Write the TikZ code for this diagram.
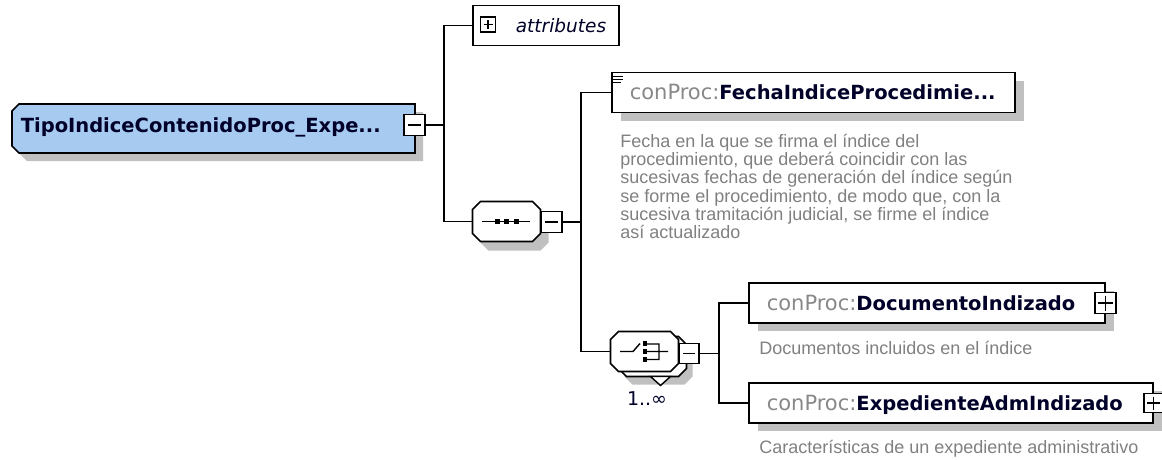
\documentclass[tikz,border=0pt]{standalone}
\usepackage{fontspec}
\setmainfont{Liberation Sans}
\newfontfamily\namefont{DejaVu Sans}
\usetikzlibrary{shadows,positioning}

\definecolor{typeblue}{RGB}{166,202,240}
\definecolor{prefixgray}{RGB}{136,136,136}
\definecolor{docgray}{RGB}{128,128,128}
\definecolor{namecol}{RGB}{0,0,40}
\definecolor{shadowgray}{RGB}{192,192,192}

% qualified element name: grey prefix, bold local name
\newcommand{\qname}[1]{\mbox{{\namefont\fontsize{21}{24}\selectfont\color{prefixgray}conProc:}{\namefont\bfseries\fontsize{19.5}{24}\selectfont\color{namecol}#1}}}
% octagon: centre x, centre y, half width, half height, cut, options
\newcommand{\octagon}[6]{\path[#6] (#1-#3+#5,#2-#4) -- (#1+#3-#5,#2-#4) -- (#1+#3,#2-#4+#5) -- (#1+#3,#2+#4-#5)
  -- (#1+#3-#5,#2+#4) -- (#1-#3+#5,#2+#4) -- (#1-#3,#2+#4-#5) -- (#1-#3,#2-#4+#5) -- cycle;}

\begin{document}
\begin{tikzpicture}[x=1pt,y=-1pt,line width=1.6pt,
    type node/.style={rectangle,inner xsep=8pt,inner ysep=0pt,minimum height=49pt,
      text width=387pt,align=left,text height=15pt,text depth=8pt,text=namecol,
      font=\namefont\bfseries\fontsize{19.5}{24}\selectfont},
    compositor/.style={rectangle,inner sep=0pt,minimum width=68pt,minimum height=40pt},
    element box/.style={rectangle,draw,fill=white,inner xsep=18pt,inner ysep=0pt,
      minimum height=40pt,align=left,text height=14pt,text depth=0pt,
      drop shadow={shadow xshift=9pt,shadow yshift=-8pt,fill=shadowgray,opacity=1}},
    doc text/.style={inner sep=0pt,align=left,text=docgray,font=\fontsize{18}{18.3}\selectfont},
    toggle/.style={rectangle,draw,fill=white,minimum size=20pt,inner sep=0pt,line width=1.5pt},
    minus toggle/.style={toggle,path picture={
      \draw[line width=1.4pt] ([xshift=4pt]path picture bounding box.west) -- ([xshift=-4pt]path picture bounding box.east);}},
    plus toggle/.style={toggle,path picture={
      \draw[line width=1.4pt] ([xshift=3pt]path picture bounding box.west) -- ([xshift=-3pt]path picture bounding box.east)
        ([yshift=-3pt]path picture bounding box.north) -- ([yshift=3pt]path picture bounding box.south);}}]

\useasboundingbox (0,0) rectangle (1162,459);

% complex type and its toggle
\fill[shadowgray] (27,112) -- (423,112) -- (423,161) -- (27,161) -- (20,154) -- (20,119) -- cycle;
\draw[fill=typeblue] (19,104) -- (415,104) -- (415,153) -- (19,153) -- (12,146) -- (12,111) -- cycle;
\node[type node,anchor=west] (type) at (12,128.5) {TipoIndiceContenidoProc\_Expe...};
\node[minus toggle,minimum size=21pt] (typeT) at (414.5,125) {};

% attributes
\node[rectangle,draw,fill=white,anchor=west,minimum height=40pt,inner xsep=1pt,text width=144pt,align=left,
  font=\namefont\itshape\fontsize{18.5}{22}\selectfont,text=namecol] (attr) at (472,25.5) {\hspace*{42pt}attributes};
\node[plus toggle,minimum size=15pt,line width=1.3pt] (attrT) at (488,24.5) {};

% sequence
\octagon{514.5}{230.5}{34}{20}{8}{fill=shadowgray}
\octagon{506.5}{221.5}{34}{20}{8}{draw,fill=white}
\node[compositor] (seq) at (506.5,221.5) {};
\draw[line width=1.4pt] (482,221.5) -- (530,221.5);
\foreach \dx in {497.5,506.5,516.5}
  \fill (\dx-2.5,219) rectangle (\dx+2.5,224);
\node[minus toggle,minimum size=21pt] (seqT) at (551.5,222) {};

% first element with its documentation
\node[element box,anchor=west,text width=367pt] (fecha) at (611,92.5) {\qname{FechaIndiceProcedimie...}};
\draw[line width=1pt] (613,76) -- (623,76) (613,79) -- (623,79) (613,82) -- (621,82);
\node[doc text,below right=20pt and 8.5pt of fecha.south west] (fechaDoc) {Fecha en la que se firma el índice del\\
  procedimiento, que deberá coincidir con las\\
  sucesivas fechas de generación del índice según\\
  se forme el procedimiento, de modo que, con la\\
  sucesiva tramitación judicial, se firme el índice\\
  así actualizado};

% choice, unbounded
\octagon{658.5}{364.5}{34}{20}{8}{fill=shadowgray}
\octagon{652.5}{356.5}{34}{20}{8}{draw,fill=white}
\octagon{644.5}{351.5}{34}{20}{8}{draw,fill=white}
\node[compositor] (choice) at (644.5,351.5) {};
\draw[line width=1.4pt,fill=white] (650.5,376.5) -- (670.5,376.5) -- (660.5,385.5) -- cycle;
\draw[line width=1.4pt] (620,351.5) -- (633,351.5) -- (640,343.5)
  (645,344) -- (659,344) -- (659,359.5) -- (645,359.5) (645,351.5) -- (668,351.5);
\foreach \dy in {343.5,351.5,359.5}
  \fill (642.5,\dy-2.5) rectangle (647,\dy+2.5);
\node[minus toggle] (choiceT) at (689,353.5) {};
\node[font=\namefont\fontsize{19}{22}\selectfont,text=namecol,inner sep=0pt] (occurs) at (647,399) {1..∞};

% choice members
\node[element box,anchor=west,text width=320pt] (docu) at (748,303) {\qname{DocumentoIndizado}};
\node[plus toggle,minimum size=21pt] (docuT) at (docu.east) {};
\node[doc text,below right=17pt and 10.5pt of docu.south west] (docuDoc) {Documentos incluidos en el índice};

\node[element box,anchor=west,text width=368pt] (expe) at (748,403) {\qname{ExpedienteAdmIndizado}};
\node[plus toggle,minimum size=19pt] (expeT) at (expe.east) {};
\node[doc text,below right=15.5pt and 10.5pt of expe.south west] (expeDoc) {Características de un expediente administrativo};

% connectors
\draw (typeT.east) -- ++(18,0) coordinate (j1);
\draw (attr.west) -| (j1) |- (seq.west);
\draw (seqT.east) -- ++(18.5,0) coordinate (j2);
\draw (fecha.west) -| (j2) |- (choice.west);
\draw (choiceT.east) -- ++(19,0) coordinate (j3);
\draw (docu.west) -| (j3) |- (expe.west);
\end{tikzpicture}
\end{document}
